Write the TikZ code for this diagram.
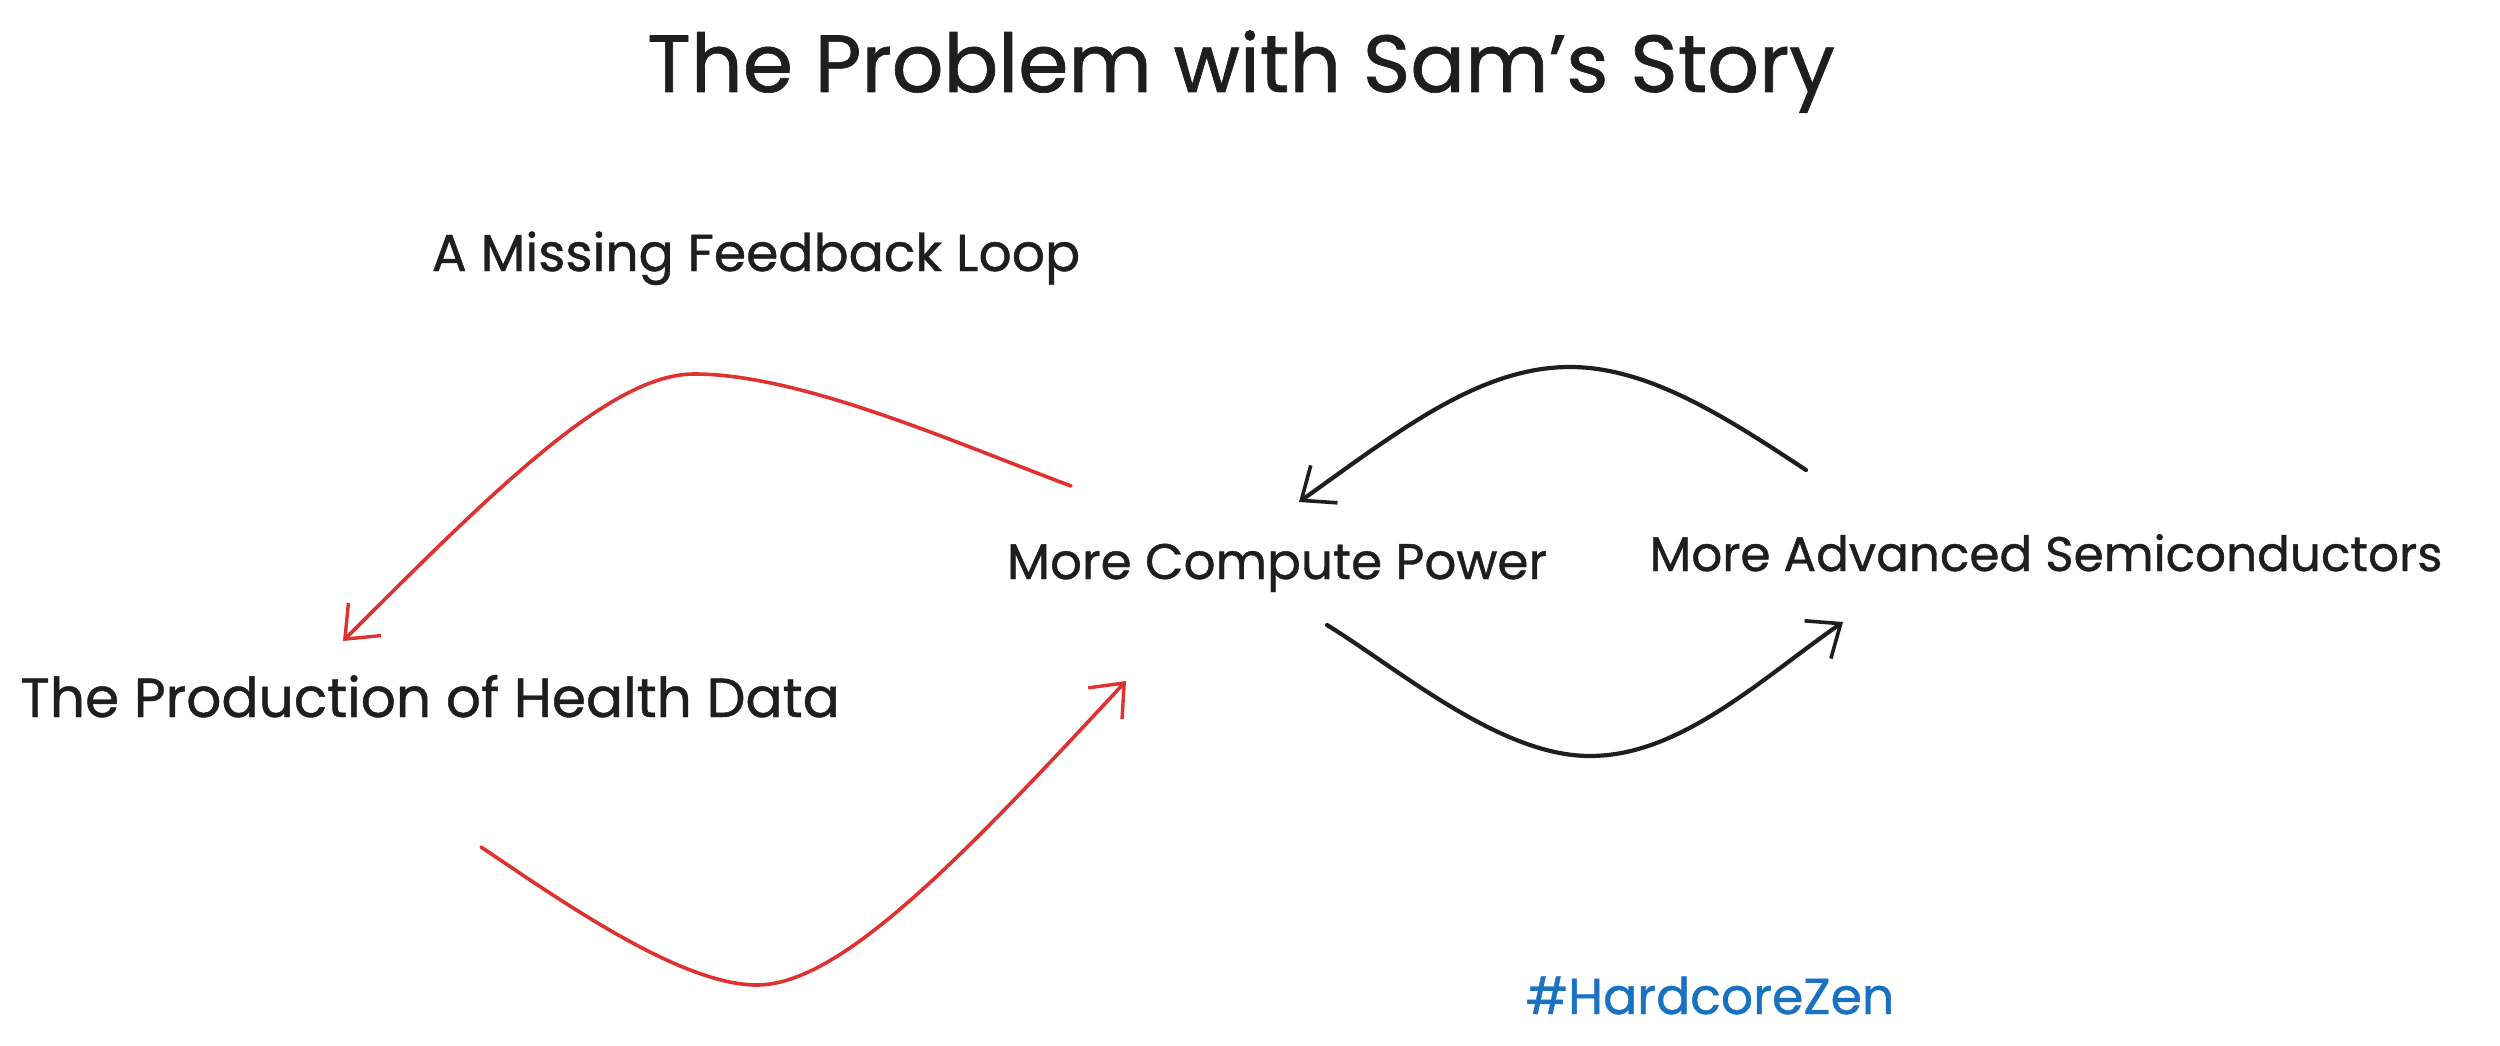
\documentclass[tikz,border=0pt]{standalone}
\usepackage{fontspec}
\setmainfont{Poppins}[FakeBold=0.8]
\usetikzlibrary{arrows.meta}
\definecolor{ink}{HTML}{1E1E1E}
\definecolor{exred}{HTML}{E03131}
\definecolor{exblue}{HTML}{1971C2}
\tikzset{
  lbl/.style={anchor=base, inner sep=0pt, text=ink},
  ttl/.style={anchor=base, inner sep=0pt, text=ink, font=\fontsize{81}{97}\selectfont},
  tag/.style={anchor=base, inner sep=0pt, text=exblue, font=\fontsize{50.5}{60}\selectfont},
  redarrow/.style={draw=exred, line width=3.6pt, line cap=round, -{Straight Barb[length=28pt, width=46pt, line width=3.4pt]}},
  blkarrow/.style={draw=ink, line width=4.2pt, line cap=round, -{Straight Barb[length=28pt, width=46pt, line width=3.6pt]}}
}
\begin{document}
\begin{tikzpicture}[x=1pt, y=-1pt]
\useasboundingbox[fill=white] (0,0) rectangle (2500,1046);
% texts
\node[ttl] (title) at (1241,92) {The Problem with Sam's Story};
\node[lbl, font=\fontsize{52}{62}\selectfont] (missing) at (756,271) {A Missing Feedback Loop};
\node[lbl, font=\fontsize{50}{60}\selectfont] (compute) at (1277,579) {More Compute Power};
\node[lbl, font=\fontsize{48.5}{58}\selectfont] (semi) at (2046,571) {More Advanced Semiconductors};
\node[lbl, font=\fontsize{55}{66}\selectfont] (health) at (430,717) {The Production of Health Data};
\node[tag] (zen) at (1710,1014) {\#HardcoreZen};
% connector end points
\coordinate (rt1) at (1071,486);
\coordinate (rt2) at (694,374);
\coordinate (rt3) at (343,641);
\coordinate (rb1) at (481,847);
\coordinate (rb2) at (757,985);
\coordinate (rb3) at (1126,681);
\coordinate (bt1) at (1806,470);
\coordinate (bt2) at (1570,367);
\coordinate (bt3) at (1299,502);
\coordinate (bb1) at (1327,625);
\coordinate (bb2) at (1590,756);
\coordinate (bb3) at (1843,622);
% arrows
\draw[redarrow] (rt1) .. controls (951,441) and (800,374) .. (rt2)
  .. controls (610,374) and (493,491) .. (rt3);
\draw[redarrow] (rb1) .. controls (560,900) and (680,985) .. (rb2)
  .. controls (840,985) and (960,860) .. (rb3);
\draw[blkarrow] (bt1) .. controls (1730,420) and (1650,367) .. (bt2)
  .. controls (1480,367) and (1400,430) .. (bt3);
\draw[blkarrow] (bb1) .. controls (1400,670) and (1500,756) .. (bb2)
  .. controls (1680,756) and (1760,680) .. (bb3);
\end{tikzpicture}
\end{document}
